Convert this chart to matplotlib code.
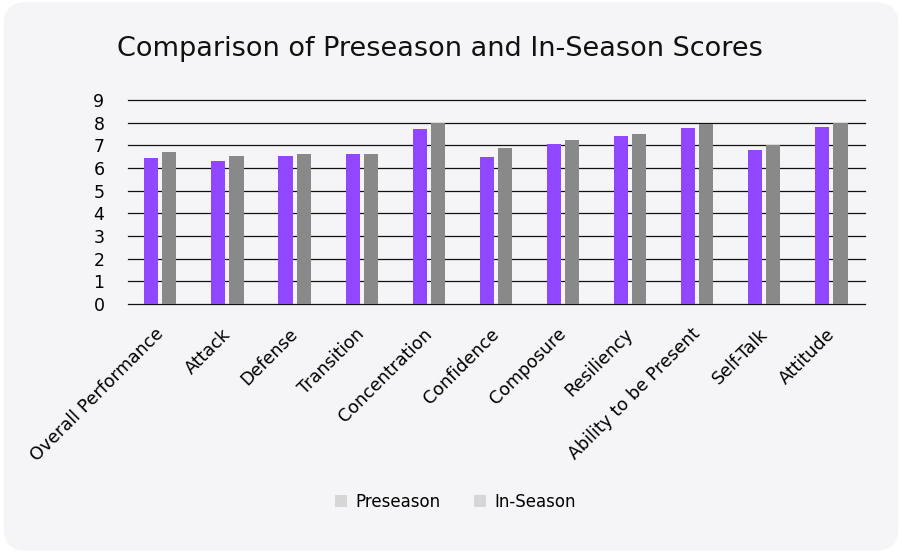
import matplotlib.pyplot as plt
import matplotlib.transforms as mtransforms
import numpy as np
from matplotlib.patches import FancyBboxPatch, Patch

categories = ["Overall Performance", "Attack", "Defense", "Transition", "Concentration",
              "Confidence", "Composure", "Resiliency", "Ability to be Present",
              "Self-Talk", "Attitude"]
preseason = [6.43, 6.33, 6.54, 6.61, 7.73, 6.47, 7.08, 7.43, 7.77, 6.78, 7.80]
in_season = [6.71, 6.54, 6.62, 6.61, 8.00, 6.90, 7.24, 7.52, 7.95, 7.04, 7.98]
y_ticks = list(range(10))

plt.rcParams['font.family'] = ['DejaVu Sans']

fig = plt.figure(figsize=(9.02, 5.53), dpi=100)
fig.patch.set_facecolor('white')
# rounded card background
card = FancyBboxPatch((0.004, 0.004), 0.992, 0.992, boxstyle="round,pad=0,rounding_size=0.025",
                      transform=fig.transFigure, facecolor='#f5f5f7', edgecolor='none',
                      mutation_aspect=902 / 553, zorder=-10)
fig.patches.append(card)

ax = fig.add_axes([0.142, 0.450, 0.817, 0.369])
ax.set_facecolor('none')

x = np.arange(len(categories))
w = 0.21
ax.bar(x - 0.135, preseason, w, color='#9146ff', zorder=3)
ax.bar(x + 0.135, in_season, w, color='#898989', zorder=3)

ax.set_xlim(-0.48, len(categories) - 1 + 0.5)
ax.set_ylim(0, 9)
ax.set_yticks(y_ticks)
ax.set_yticklabels([str(t) for t in y_ticks], fontsize=12.5)
for t in y_ticks:
    ax.axhline(t, color='#111111', linewidth=0.9, zorder=0, clip_on=False)
ax.tick_params(axis='y', length=0, pad=17)
ax.tick_params(axis='x', length=0, pad=15)
ax.set_xticks(x)
ax.set_xticklabels(categories, rotation=45, ha='right', rotation_mode='anchor', fontsize=12.6)
shift = mtransforms.ScaledTranslation(-6 / 100, 0, fig.dpi_scale_trans)
for lbl in ax.get_xticklabels():
    lbl.set_transform(lbl.get_transform() + shift)
for s in ax.spines.values():
    s.set_visible(False)

fig.text(0.13, 0.912, "Comparison of Preseason and In-Season Scores", fontsize=19.5,
         ha='left', va='center', color='#111111')

handles = [Patch(facecolor='#d6d6d6', edgecolor='none', label='Preseason'),
           Patch(facecolor='#d6d6d6', edgecolor='none', label='In-Season')]
fig.legend(handles=handles, loc='center', bbox_to_anchor=(0.505, 0.093), ncol=2,
           frameon=False, fontsize=12, handlelength=0.75, handleheight=0.75,
           columnspacing=2.0, handletextpad=0.5)

fig.savefig('out.png', dpi=100)
